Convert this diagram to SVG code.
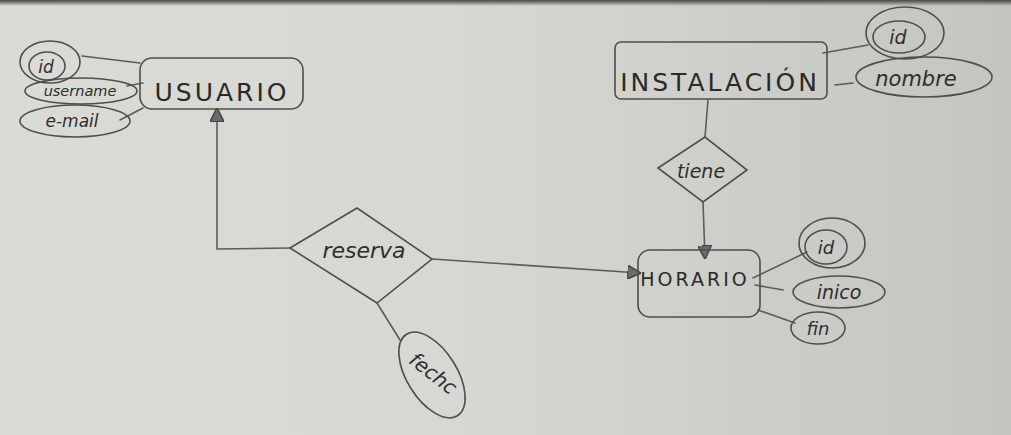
<svg xmlns="http://www.w3.org/2000/svg" width="1011" height="435" viewBox="0 0 1011 435">
<defs>
<linearGradient id="bg" x1="0" y1="0" x2="1" y2="0">
<stop offset="0" stop-color="#dadad6"/>
<stop offset="0.45" stop-color="#d7d7d3"/>
<stop offset="1" stop-color="#c4c4c0"/>
</linearGradient>
<linearGradient id="top" x1="0" y1="0" x2="0" y2="1">
<stop offset="0" stop-color="#4a4640"/>
<stop offset="1" stop-color="#4a4640" stop-opacity="0"/>
</linearGradient>
<marker id="arr" viewBox="0 0 10 10" refX="9" refY="5" markerWidth="14" markerHeight="14" markerUnits="userSpaceOnUse" orient="auto">
<path d="M0,0 L10,5 L0,10 Z" fill="#6a6a66" stroke="#444" stroke-width="1"/>
</marker>
</defs>
<style>
.ln{fill:none;stroke:#5c5c58;stroke-width:1.6;stroke-linecap:round;stroke-linejoin:round}
.sh{fill:none;stroke:#4e4e4a;stroke-width:1.6}
.ent{font-family:"DejaVu Sans",sans-serif;fill:#2a2a28;letter-spacing:3px}
.att{font-family:"DejaVu Sans",sans-serif;fill:#2e2e2c;font-style:italic}
</style>
<rect width="1011" height="435" fill="url(#bg)"/>
<rect width="1011" height="6" fill="url(#top)"/>

<g id="connectors">
<path class="ln" d="M82,56 L140,63"/>
<path class="ln" d="M127,86 L143,83"/>
<path class="ln" d="M120,120 L143,108"/>
<path class="ln" d="M290,248 L217,249 L217,109" marker-end="url(#arr)"/>
<path class="ln" d="M432,259 L640,273" marker-end="url(#arr)"/>
<path class="ln" d="M377,303 L400,340"/>
<path class="ln" d="M823,53 L868,45"/>
<path class="ln" d="M835,85 L853,83"/>
<path class="ln" d="M708,100 L705,137"/>
<path class="ln" d="M703,202 L705,258" marker-end="url(#arr)"/>
<path class="ln" d="M753,278 L807,252"/>
<path class="ln" d="M755,285 L783,290"/>
<path class="ln" d="M758,310 L795,323"/>
</g>

<g id="usuario">
<rect class="sh" x="140" y="58" width="163" height="51" rx="12"/>
<text class="ent" x="222" y="101" font-size="25" text-anchor="middle">USUARIO</text>
</g>
<g id="usuario-id">
<ellipse class="sh" cx="50" cy="62" rx="30" ry="21"/>
<ellipse class="sh" cx="47" cy="66" rx="18" ry="14"/>
<text class="att" x="46" y="73" font-size="17" text-anchor="middle">id</text>
</g>
<g id="usuario-username">
<ellipse class="sh" cx="81" cy="91" rx="56" ry="13"/>
<text class="att" x="80" y="96" font-size="14.5" text-anchor="middle">username</text>
</g>
<g id="usuario-email">
<ellipse class="sh" cx="75" cy="121" rx="55" ry="16"/>
<text class="att" x="72" y="127" font-size="17" text-anchor="middle">e-mail</text>
</g>

<g id="reserva">
<path class="sh" d="M290,248 L357,208 L432,259 L377,303 Z"/>
<text class="att" x="364" y="258" font-size="22" text-anchor="middle">reserva</text>
</g>
<g id="reserva-fecha">
<ellipse class="sh" cx="432" cy="375" rx="48" ry="25" transform="rotate(58 432 375)"/>
<text class="att" x="432" y="380" font-size="20" text-anchor="middle" transform="rotate(38 432 375)">fechc</text>
</g>

<g id="instalacion">
<rect class="sh" x="615" y="42" width="212" height="57" rx="6"/>
<text class="ent" x="720" y="91" font-size="25" text-anchor="middle" letter-spacing="1.8">INSTALACIÓN</text>
</g>
<g id="instalacion-id">
<ellipse class="sh" cx="905" cy="33" rx="39" ry="26"/>
<ellipse class="sh" cx="899" cy="37" rx="26" ry="16"/>
<text class="att" x="898" y="44" font-size="19" text-anchor="middle">id</text>
</g>
<g id="instalacion-nombre">
<ellipse class="sh" cx="924" cy="77" rx="68" ry="20"/>
<text class="att" x="916" y="86" font-size="21" text-anchor="middle">nombre</text>
</g>

<g id="tiene">
<path class="sh" d="M658,168 L705,137 L747,170 L703,202 Z"/>
<text class="att" x="701" y="178" font-size="19" text-anchor="middle">tiene</text>
</g>

<g id="horario">
<rect class="sh" x="638" y="250" width="122" height="67" rx="12"/>
<text class="ent" x="695" y="286" font-size="19" text-anchor="middle" letter-spacing="0.5">HORARIO</text>
</g>
<g id="horario-id">
<ellipse class="sh" cx="832" cy="243" rx="33" ry="25"/>
<ellipse class="sh" cx="826" cy="247" rx="21" ry="17"/>
<text class="att" x="826" y="254" font-size="18" text-anchor="middle">id</text>
</g>
<g id="horario-inico">
<ellipse class="sh" cx="839" cy="292" rx="46" ry="16"/>
<text class="att" x="839" y="299" font-size="19" text-anchor="middle">inico</text>
</g>
<g id="horario-fin">
<ellipse class="sh" cx="818" cy="328" rx="27" ry="16"/>
<text class="att" x="818" y="335" font-size="18" text-anchor="middle">fin</text>
</g>
</svg>
